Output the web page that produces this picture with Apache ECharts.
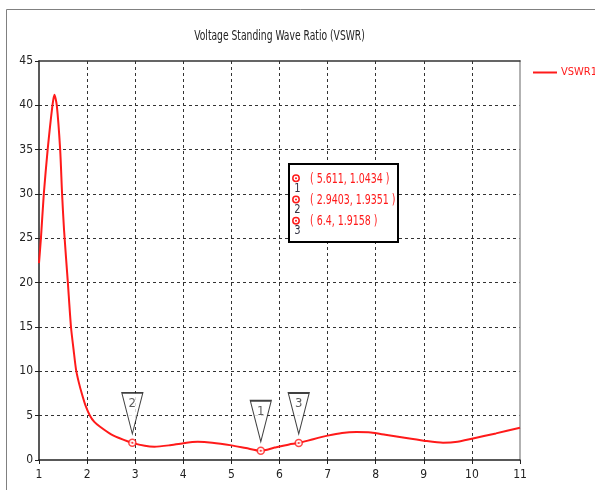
<!DOCTYPE html>
<html>
<head>
<meta charset="utf-8">
<script src="https://cdn.jsdelivr.net/npm/echarts@6/dist/echarts.min.js"></script>
<style>html,body{margin:0;padding:0;background:#fff;}#c{width:595px;height:490px;}</style>
</head>
<body>
<div id="c"></div>
<script>
var titleText = 'Voltage Standing Wave Ratio (VSWR)';
var seriesName = 'VSWR1';
var freqs = [1.0, 1.04, 1.1, 1.18, 1.28, 1.32, 1.37, 1.44, 1.48, 1.52, 1.6, 1.665, 1.72, 1.77, 1.83, 1.89, 1.97, 2.06, 2.15, 2.27, 2.5, 2.75, 2.9403, 3.2, 3.4, 3.7, 4.0, 4.3, 4.6, 5.0, 5.3, 5.611, 5.9, 6.2, 6.4, 6.7, 7.0, 7.3, 7.6, 7.9, 8.2, 8.6, 9.0, 9.4, 9.7, 10.0, 10.5, 11.0];
var vswr  = [22.2, 25, 30, 35, 40, 41.2, 40, 35, 30, 26, 20, 15, 12.4, 10.2, 8.7, 7.5, 6.1, 5, 4.3, 3.75, 2.9, 2.3, 1.9351, 1.6, 1.5, 1.65, 1.9, 2.05, 1.95, 1.65, 1.35, 1.0434, 1.4, 1.75, 1.9158, 2.35, 2.75, 3.05, 3.15, 3.1, 2.85, 2.5, 2.18, 1.95, 2.05, 2.4, 3.0, 3.64];
var markerIds = ['1', '2', '3'];
var markerX = [5.611, 2.9403, 6.4];
var markerY = [1.0434, 1.9351, 1.9158];
var xTicks = [1, 2, 3, 4, 5, 6, 7, 8, 9, 10, 11];
var yTicks = [0, 5, 10, 15, 20, 25, 30, 35, 40, 45];

var FONT = "'DejaVu Sans Condensed', 'Liberation Sans', sans-serif";
var RED = '#ff1a1a';

var lineData = freqs.map(function (f, i) { return [f, vswr[i]]; });
var markData = markerX.map(function (x, i) { return {value: [x, markerY[i]], name: markerIds[i]}; });

var chart = echarts.init(document.getElementById('c'), null, {renderer: 'canvas'});

var boxX = 289, boxY = 164, rowH = 21.2;
var graphics = [
  {type: 'line', shape: {x1: 6.5, y1: 9.5, x2: 595, y2: 9.5}, style: {stroke: '#808080', lineWidth: 1}, silent: true},
  {type: 'line', shape: {x1: 6.5, y1: 9.5, x2: 6.5, y2: 490}, style: {stroke: '#808080', lineWidth: 1}, silent: true},
  {type: 'text', x: 279.5, y: 36, scaleX: 0.73, style: {text: titleText, fill: '#222', font: '14px ' + FONT, align: 'center', verticalAlign: 'middle'}, silent: true},
  {type: 'rect', shape: {x: boxX, y: boxY, width: 109, height: 78}, style: {fill: '#fff', stroke: '#000', lineWidth: 2}, z: 100}
];
markerIds.forEach(function (id, i) {
  var cy = 178.3 + rowH * i;
  graphics.push({type: 'circle', shape: {cx: 296, cy: cy, r: 3.2}, style: {fill: '#fff', stroke: RED, lineWidth: 1.5}, z: 101});
  graphics.push({type: 'circle', shape: {cx: 296, cy: cy, r: 1}, style: {fill: RED}, z: 102});
  graphics.push({type: 'text', x: 297.5, y: cy + 10, scaleX: 0.85, style: {text: id, fill: '#333344', font: '13px ' + FONT, align: 'center', verticalAlign: 'middle'}, z: 101});
  graphics.push({type: 'text', x: 310, y: cy + 1, scaleX: 0.75, style: {text: '( ' + markerX[i] + ', ' + markerY[i] + ' )', fill: RED, font: '14px ' + FONT, align: 'left', verticalAlign: 'middle'}, z: 101});
});

chart.setOption({
  animation: false,
  backgroundColor: '#fff',
  legend: {
    left: 533, top: 67, padding: 0, itemWidth: 24, itemHeight: 2, itemGap: 4,
    data: [{name: seriesName, icon: 'rect'}],
    textStyle: {color: RED, fontFamily: FONT, fontSize: 11, padding: [0, 0, 0, -1]}
  },
  grid: {left: 39, right: 75, top: 61, bottom: 30, containLabel: false},
  xAxis: [{
    type: 'value', min: 1, max: 11, interval: 1, position: 'bottom',
    axisLine: {show: true, lineStyle: {color: '#222', width: 1.5}},
    axisTick: {show: true, length: 4, lineStyle: {color: '#222'}},
    axisLabel: {color: '#222', fontFamily: FONT, fontSize: 12, margin: 9,
      formatter: function (v) { return xTicks.indexOf(v) >= 0 ? String(v) : ''; }},
    splitLine: {show: true, showMinLine: false, showMaxLine: false, lineStyle: {color: '#333', type: [3, 3], width: 1}}
  }, {
    type: 'value', min: 1, max: 11, interval: 1, position: 'top',
    axisLine: {show: true, onZero: false, lineStyle: {color: '#333', width: 1.5}},
    axisTick: {show: false}, axisLabel: {show: false}, splitLine: {show: false}
  }],
  yAxis: [{
    type: 'value', min: 0, max: 45, interval: 5, position: 'left',
    axisLine: {show: true, lineStyle: {color: '#222', width: 1.5}},
    axisTick: {show: true, length: 4, lineStyle: {color: '#222'}},
    axisLabel: {color: '#222', fontFamily: FONT, fontSize: 12, margin: 6,
      formatter: function (v) { return yTicks.indexOf(v) >= 0 ? String(v) : ''; }},
    splitLine: {show: true, showMinLine: false, showMaxLine: false, lineStyle: {color: '#333', type: [3, 3], width: 1}}
  }, {
    type: 'value', min: 0, max: 45, interval: 5, position: 'right',
    axisLine: {show: true, onZero: false, lineStyle: {color: '#999', width: 1.5}},
    axisTick: {show: false}, axisLabel: {show: false}, splitLine: {show: false}
  }],
  series: [{
    name: seriesName, type: 'line', data: lineData, smooth: 0.25,
    showSymbol: false, symbol: 'none', color: RED,
    lineStyle: {color: RED, width: 2}, z: 3
  }, {
    type: 'scatter', data: markData, symbol: 'circle', symbolSize: 7,
    itemStyle: {color: '#fff', borderColor: RED, borderWidth: 1.5}, z: 4, silent: true
  }, {
    type: 'scatter', data: markData, symbol: 'circle', symbolSize: 2,
    itemStyle: {color: RED}, z: 5, silent: true
  }, {
    type: 'scatter', data: markData,
    symbol: 'path://M0,0 L22,0 L11,41 Z', symbolSize: [21, 41], symbolKeepAspect: false,
    symbolOffset: [0, -29.5],
    itemStyle: {color: '#fff', borderColor: '#111', borderWidth: 1.3},
    label: {show: true, position: 'inside', offset: [0, -10], formatter: '{b}',
      color: '#333', fontFamily: FONT, fontSize: 13},
    z: 6, silent: true
  }],
  graphic: graphics
});
</script>
</body>
</html>
